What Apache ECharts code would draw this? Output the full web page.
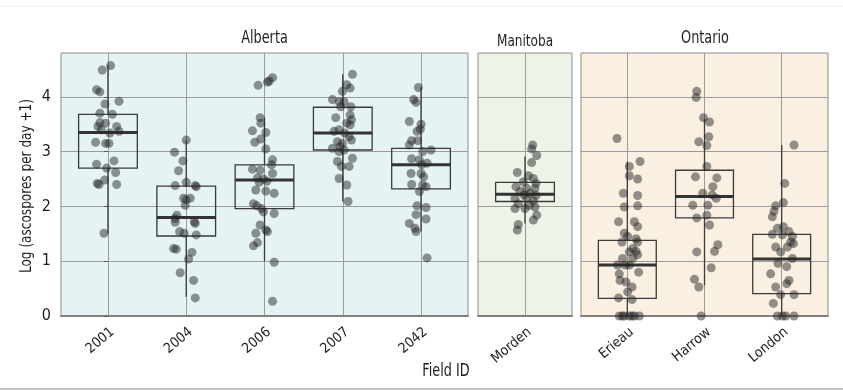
<!DOCTYPE html>
<html>
<head>
<meta charset="utf-8">
<script src="https://cdn.jsdelivr.net/npm/echarts@6/dist/echarts.min.js"></script>
<style>html,body{margin:0;padding:0;background:#fff;}#c{width:843px;height:390px;}</style>
</head>
<body>
<div id="c"></div>
<script>
// ---- categories ----
const catsAlberta = ['2001', '2004', '2006', '2007', '2042'];
const catsManitoba = ['Morden'];
const catsOntario = ['Erieau', 'Harrow', 'London'];
const yTicks = [0, 1, 2, 3, 4];

// ---- box stats: [lower whisker, Q1, median, Q3, upper whisker] ----
const box2001 = [1.51, 2.70, 3.35, 3.68, 4.57];
const box2004 = [0.35, 1.46, 1.80, 2.37, 3.21];
const box2006 = [1.00, 1.96, 2.48, 2.76, 3.62];
const box2007 = [2.09, 3.03, 3.34, 3.81, 4.41];
const box2042 = [1.54, 2.32, 2.76, 3.06, 4.17];
const boxMorden = [1.69, 2.09, 2.22, 2.44, 2.91];
const boxErieau = [0.00, 0.32, 0.93, 1.38, 2.82];
const boxHarrow = [0.56, 1.79, 2.18, 2.66, 3.60];
const boxLondon = [0.00, 0.41, 1.04, 1.49, 3.12];

// ---- observations: [horizontal jitter (category units), value] ----
const pts2001 = [[.034,4.57],[-.073,4.49],[-.145,4.13],[-.103,4.09],[.141,3.92],[-.038,3.87],[-.103,3.70],[.056,3.68],[-.103,3.53],[-.030,3.52],[-.128,3.46],[.111,3.46],[-.085,3.40],[.141,3.37],[.026,3.34],[-.158,3.17],[-.030,3.15],[.013,3.15],[-.145,2.77],[.077,2.83],[-.017,2.70],[.098,2.62],[-.043,2.48],[-.137,2.42],[-.115,2.40],[.111,2.40],[-.051,1.51]];
const pts2004 = [[0,3.21],[-.150,2.99],[-.043,2.83],[-.098,2.65],[-.141,2.38],[0,2.44],[.115,2.38],[.128,2.36],[-.034,2.15],[0,2.12],[.051,2.15],[-.013,2.02],[-.120,1.84],[-.141,1.78],[-.141,1.71],[.103,1.72],[.115,1.69],[-.085,1.54],[-.026,1.51],[.128,1.48],[-.162,1.23],[-.128,1.22],[.073,1.16],[.030,1.04],[-.077,0.79],[.094,0.65],[.115,0.33]];
const pts2006 = [[.103,4.35],[.060,4.29],[.038,4.27],[-.081,4.21],[-.056,3.62],[-.047,3.52],[-.154,3.38],[.017,3.35],[-.047,3.23],[-.124,3.17],[.017,3.05],[.103,2.85],[.090,2.76],[-.154,2.68],[-.056,2.66],[.103,2.60],[-.090,2.52],[-.013,2.50],[.030,2.46],[-.068,2.44],[-.111,2.30],[.017,2.28],[.124,2.24],[-.141,2.05],[-.098,2.01],[-.038,1.96],[-.013,1.90],[.124,1.87],[-.056,1.66],[.017,1.57],[.038,1.54],[-.111,1.51],[-.090,1.34],[-.141,1.28],[.124,0.98],[.103,0.27]];
const pts2007 = [[.124,4.41],[.051,4.22],[.094,4.16],[-.004,4.10],[-.132,3.95],[-.047,3.91],[.017,3.91],[-.026,3.82],[.103,3.82],[.094,3.67],[-.090,3.62],[.111,3.58],[.051,3.52],[.094,3.49],[-.047,3.40],[-.111,3.37],[.026,3.34],[.081,3.27],[.111,3.21],[-.068,3.18],[-.004,3.15],[-.034,3.09],[-.132,3.06],[.017,3.03],[-.047,3.00],[.124,2.88],[-.068,2.82],[.081,2.73],[-.017,2.73],[-.047,2.51],[.051,2.39],[.068,2.09]];
const pts2042 = [[-.034,4.17],[-.094,3.95],[-.064,3.90],[-.150,3.55],[0,3.50],[-.009,3.41],[-.051,3.37],[-.120,3.20],[-.043,3.20],[-.150,3.12],[.128,3.03],[.021,3.00],[-.120,2.87],[-.021,2.85],[.077,2.79],[.009,2.76],[-.128,2.60],[0,2.60],[.034,2.54],[-.120,2.40],[.021,2.39],[.064,2.36],[-.021,2.27],[-.051,2.01],[.064,1.98],[-.064,1.85],[.064,1.77],[-.150,1.69],[-.077,1.60],[-.064,1.54],[.077,1.06]];
const ptsMorden = [[.098,3.12],[.085,3.05],[.150,2.93],[.085,2.80],[-.098,2.62],[.043,2.56],[.107,2.51],[-.021,2.45],[.141,2.42],[-.115,2.36],[.021,2.33],[.128,2.33],[-.064,2.27],[.064,2.24],[-.013,2.21],[.141,2.20],[-.128,2.15],[.021,2.15],[.107,2.10],[-.085,2.05],[.056,2.02],[.128,1.99],[-.128,1.96],[0,1.96],[.150,1.84],[.107,1.75],[-.085,1.67],[-.098,1.57]];
const ptsErieau = [[-.134,3.24],[.165,2.82],[.026,2.73],[.026,2.56],[.134,2.50],[-.052,2.24],[.134,2.20],[-.039,1.99],[.134,2.01],[-.113,1.72],[.091,1.72],[.134,1.63],[-.039,1.51],[.004,1.45],[.113,1.41],[-.069,1.35],[.134,1.35],[.069,1.23],[.113,1.18],[.026,1.17],[-.061,1.05],[.069,1.05],[.134,1.12],[-.126,0.93],[-.026,0.93],[.026,0.93],[.147,0.80],[-.104,0.77],[-.095,0.65],[-.017,0.62],[.061,0.53],[.004,0.44],[-.113,0.33],[.061,0.30],[-.104,0],[-.065,0],[-.039,0],[.026,0],[.060,0],[.091,0],[.156,0]];
const ptsHarrow = [[-.100,4.10],[-.108,3.99],[-.013,3.62],[.065,3.54],[.056,3.27],[-.074,3.18],[.030,3.11],[.030,2.73],[-.117,2.54],[.160,2.52],[.108,2.36],[-.022,2.24],[.100,2.21],[.152,2.15],[-.152,2.02],[.043,2.02],[-.100,1.79],[.030,1.84],[.065,1.66],[.173,1.30],[.130,1.18],[-.100,1.17],[.087,0.88],[-.130,0.67],[-.074,0.53],[-.043,0]];
const ptsLondon = [[.160,3.12],[.039,2.42],[.022,2.07],[-.078,2.01],[-.100,1.91],[-.121,1.81],[.022,1.63],[-.056,1.60],[-.121,1.49],[.095,1.54],[.009,1.48],[.139,1.45],[.117,1.35],[.152,1.32],[-.078,1.26],[.074,1.26],[-.013,1.17],[.139,1.05],[-.048,0.96],[.065,0.90],[-.143,0.77],[.095,0.65],[.065,0.59],[-.078,0.53],[-.013,0.39],[.160,0.39],[-.108,0.23],[-.056,0],[.009,0],[.052,0],[.160,0]];

// ---- build ----
const F = "'Liberation Sans Narrow','Arial Narrow','DejaVu Sans Condensed','Roboto Condensed','Liberation Sans',sans-serif";
const TXT = '#1e1e1e';
const GRID_C = '#9c9c9c';
const NARROW = 0.84;

function boxData(list) { return list.map((s, i) => [i].concat(s)); }
function ptData(list) {
  const out = [];
  list.forEach((g, i) => g.forEach(p => out.push([i + p[0], p[1]])));
  return out;
}
function renderBox(params, api) {
  const x = api.value(0);
  const lo = api.coord([x, api.value(1)]);
  const q1 = api.coord([x, api.value(2)]);
  const md = api.coord([x, api.value(3)]);
  const q3 = api.coord([x, api.value(4)]);
  const hi = api.coord([x, api.value(5)]);
  const w = api.size([0.75, 0])[0];
  const st = { stroke: '#3b3b3b', lineWidth: 1.3, fill: null };
  return {
    type: 'group',
    children: [
      { type: 'line', shape: { x1: lo[0], y1: lo[1], x2: q1[0], y2: q1[1] }, style: st },
      { type: 'line', shape: { x1: q3[0], y1: q3[1], x2: hi[0], y2: hi[1] }, style: st },
      { type: 'rect', shape: { x: q1[0] - w / 2, y: q3[1], width: w, height: q1[1] - q3[1] }, style: { stroke: '#3b3b3b', lineWidth: 1.3, fill: null } },
      { type: 'line', shape: { x1: md[0] - w / 2, y1: md[1], x2: md[0] + w / 2, y2: md[1] }, style: { stroke: '#333', lineWidth: 3 } }
    ]
  };
}

const panels = [
  { cats: catsAlberta, boxes: [box2001, box2004, box2006, box2007, box2042], pts: [pts2001, pts2004, pts2006, pts2007, pts2042], left: 61, width: 407, bg: '#e6f3f4' },
  { cats: catsManitoba, boxes: [boxMorden], pts: [ptsMorden], left: 478, width: 94, bg: '#edf4e7' },
  { cats: catsOntario, boxes: [boxErieau, boxHarrow, boxLondon], pts: [ptsErieau, ptsHarrow, ptsLondon], left: 581, width: 247, bg: '#faf0e1' }
];

const grid = [], xAxis = [], yAxis = [], series = [];
panels.forEach((p, gi) => {
  const idx = p.cats.map((c, i) => i);
  grid.push({ left: p.left, top: 53, width: p.width, height: 263, show: true, backgroundColor: p.bg, borderColor: '#8c8c8c', borderWidth: 1 });
  xAxis.push({
    type: 'value', gridIndex: gi, min: -0.6, max: p.cats.length - 0.4,
    axisLine: { show: true, onZero: false, lineStyle: { color: '#808080', width: 2 } },
    axisTick: { show: false, customValues: idx },
    axisLabel: { customValues: idx, formatter: v => p.cats[Math.round(v)], rotate: 40, align: 'right', verticalAlign: 'top', margin: 9, fontSize: 14, color: TXT, fontFamily: F },
    splitLine: { show: true, lineStyle: { color: GRID_C, width: 1 } }
  });
  yAxis.push({
    type: 'value', gridIndex: gi, min: 0, max: 4.8, interval: 1,
    axisLine: { show: false },
    axisTick: { show: gi === 0, length: 4, customValues: yTicks, lineStyle: { color: '#555' } },
    axisLabel: { show: gi === 0, customValues: yTicks, margin: 10, fontSize: 16, color: TXT, fontFamily: F },
    splitLine: { show: true, lineStyle: { color: GRID_C, width: 1 } }
  });
  series.push({
    type: 'custom', xAxisIndex: gi, yAxisIndex: gi, renderItem: renderBox, clip: false, silent: true, z: 3,
    encode: { x: 0, y: [1, 2, 3, 4, 5] }, data: boxData(p.boxes)
  });
  series.push({
    type: 'scatter', xAxisIndex: gi, yAxisIndex: gi, clip: false, silent: true, z: 4,
    symbolSize: 9, itemStyle: { color: 'rgba(38,38,38,0.62)' }, data: ptData(p.pts)
  });
});

function label(text, x, y, size, rot) {
  return { type: 'text', x: x, y: y, rotation: rot || 0, scaleX: NARROW, silent: true,
    style: { text: text, fontSize: size, fontFamily: F, fill: TXT, textAlign: 'center', textVerticalAlign: 'middle' } };
}

const chart = echarts.init(document.getElementById('c'), null, { renderer: 'canvas' });
chart.setOption({
  animation: false,
  backgroundColor: '#fff',
  grid, xAxis, yAxis, series,
  graphic: [
    { type: 'rect', shape: { x: 0, y: 6, width: 843, height: 1 }, style: { fill: '#f1f1f1' }, silent: true },
    { type: 'rect', shape: { x: 0, y: 388, width: 843, height: 2 }, style: { fill: '#c4c4c4' }, silent: true },
    label('Alberta', 264.5, 38.5, 17),
    label('Manitoba', 525, 41.5, 16),
    label('Ontario', 705, 38.5, 17),
    label('Field ID', 446, 372, 17),
    label('Log (ascospores per day +1)', 27, 186, 16, Math.PI / 2)
  ]
});
</script>
</body>
</html>
